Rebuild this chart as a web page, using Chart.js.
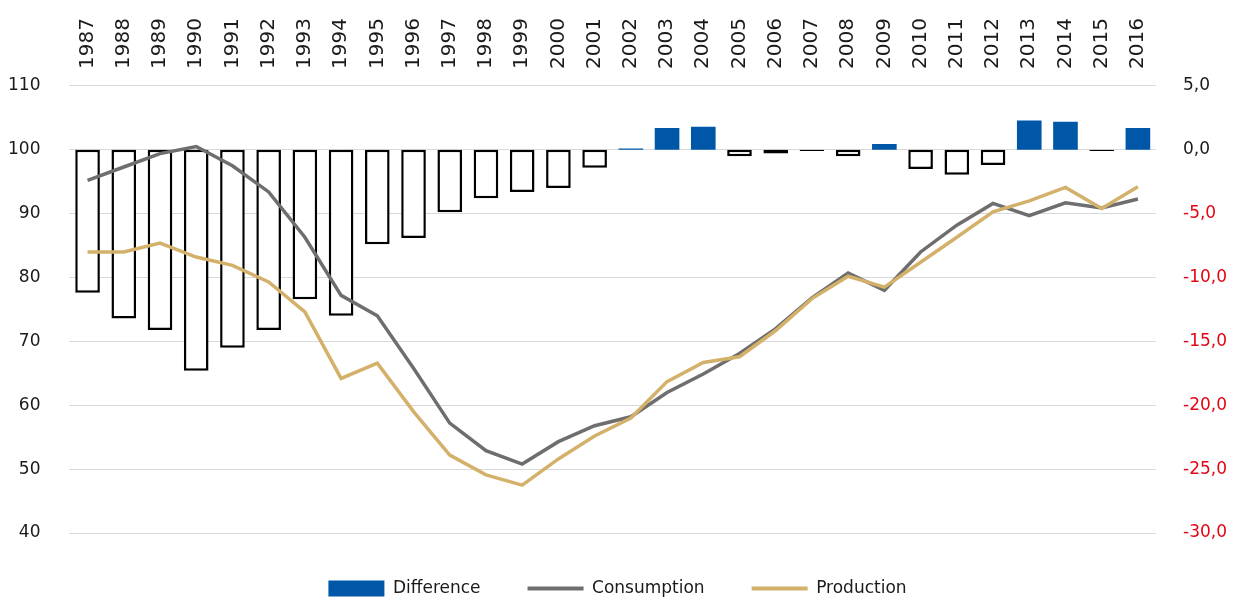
<!DOCTYPE html>
<html>
<head>
<meta charset="utf-8">
<script src="https://cdn.jsdelivr.net/npm/chart.js@4.4.1/dist/chart.umd.min.js"></script>
<style>
  html, body { margin: 0; padding: 0; background: #fff; overflow: hidden; }
  #wrap { position: relative; width: 1235px; height: 607px; }
</style>
</head>
<body>
<div id="wrap"><canvas id="chart"></canvas></div>
<script>
const years = ['1987', '1988', '1989', '1990', '1991', '1992', '1993', '1994', '1995', '1996',
  '1997', '1998', '1999', '2000', '2001', '2002', '2003', '2004', '2005', '2006',
  '2007', '2008', '2009', '2010', '2011', '2012', '2013', '2014', '2015', '2016'];

// right axis (difference)
const difference = [-11.2, -13.2, -14.1, -17.3, -15.5, -14.1, -11.7, -13.0, -7.4, -6.9,
  -4.9, -3.8, -3.3, -3.0, -1.4, 0.1, 1.7, 1.8, -0.5, -0.3,
  -0.1, -0.5, 0.45, -1.5, -1.95, -1.2, 2.3, 2.2, -0.1, 1.7];

// left axis
const consumption = [95.2, 97.3, 99.4, 100.5, 97.5, 93.4, 86.3, 77.2, 74.0, 65.8,
  57.2, 52.9, 50.8, 54.3, 56.8, 58.2, 62.0, 64.9, 68.1, 72.0,
  76.8, 80.7, 78.0, 84.0, 88.2, 91.6, 89.7, 91.7, 90.9, 92.3];
const production = [84.0, 84.0, 85.4, 83.2, 81.9, 79.3, 74.6, 64.2, 66.6, 59.0,
  52.2, 49.1, 47.5, 51.6, 55.2, 58.0, 63.7, 66.7, 67.6, 71.7,
  76.7, 80.2, 78.5, 82.4, 86.3, 90.3, 92.0, 94.1, 90.8, 94.2];

const leftTicks = [40, 50, 60, 70, 80, 90, 100, 110];
const rightTicks = [-30, -25, -20, -15, -10, -5, 0, 5];

const blue = '#0057a8';
const gray = '#6e6e6e';
const gold = '#d4b16b';
const red = '#e30613';
const textColor = '#1a1a1a';

Chart.defaults.font.family = '"DejaVu Sans", sans-serif';
Chart.defaults.color = textColor;

// chart.js reserves the tick padding twice, keep only the inner one
const dropOuterPadding = scale => {
  if (scale.isHorizontal()) scale.height -= scale.options.ticks.padding;
  else scale.width -= scale.options.ticks.padding;
};

new Chart(document.getElementById('chart'), {
  data: {
    labels: years,
    datasets: [
      {
        type: 'bar',
        label: 'Difference',
        data: difference,
        yAxisID: 'yRight',
        order: 3,
        backgroundColor: ctx => ctx.raw < 0 ? '#ffffff' : blue,
        borderColor: ctx => ctx.raw < 0 ? '#000000' : blue,
        borderWidth: ctx => ctx.raw < 0 ? 2.5 : 0,
        borderSkipped: false,
        barPercentage: 0.68,
        categoryPercentage: 1
      },
      {
        type: 'line',
        label: 'Consumption',
        data: consumption,
        yAxisID: 'yLeft',
        order: 2,
        borderColor: gray,
        backgroundColor: gray,
        borderWidth: 3.5,
        pointRadius: 0,
        tension: 0
      },
      {
        type: 'line',
        label: 'Production',
        data: production,
        yAxisID: 'yLeft',
        order: 1,
        borderColor: gold,
        backgroundColor: gold,
        borderWidth: 3.5,
        pointRadius: 0,
        tension: 0
      }
    ]
  },
  options: {
    responsive: true,
    maintainAspectRatio: false,
    animation: false,
    layout: { autoPadding: false, padding: { top: 18, left: 8, right: 8, bottom: 0 } },
    scales: {
      x: {
        position: 'top',
        offset: true,
        grid: { display: false, drawTicks: false },
        border: { display: false },
        afterFit: dropOuterPadding,
        ticks: {
          minRotation: 90,
          maxRotation: 90,
          autoSkip: false,
          padding: 17,
          labelOffset: 24,
          font: { size: 20, lineHeight: 1.2 }
        }
      },
      yLeft: {
        position: 'left',
        min: leftTicks[0],
        max: leftTicks[leftTicks.length - 1],
        grid: { color: '#d9d9d9', lineWidth: 1, drawTicks: false },
        border: { display: false },
        afterFit: dropOuterPadding,
        ticks: { stepSize: leftTicks[1] - leftTicks[0], padding: 29, font: { size: 17 } }
      },
      yRight: {
        position: 'right',
        min: rightTicks[0],
        max: rightTicks[rightTicks.length - 1],
        grid: { display: false, drawTicks: false },
        border: { display: false },
        afterFit: dropOuterPadding,
        ticks: {
          stepSize: rightTicks[1] - rightTicks[0],
          padding: 27,
          font: { size: 17 },
          callback: v => v.toFixed(1).replace('.', ','),
          color: ctx => ctx.tick.value < 0 ? red : textColor
        }
      }
    },
    plugins: {
      tooltip: { enabled: false },
      legend: {
        position: 'bottom',
        labels: {
          padding: 47,
          font: { size: 17 },
          usePointStyle: true,
          pointStyleWidth: 56,
          boxHeight: 16,
          sort: (a, b) => a.datasetIndex - b.datasetIndex,
          generateLabels: chart => Chart.defaults.plugins.legend.labels.generateLabels(chart).map(item => {
            if (item.datasetIndex === 0) {
              return { ...item, pointStyle: 'rect', fillStyle: blue, strokeStyle: blue, lineWidth: 0 };
            }
            return { ...item, pointStyle: 'line', lineWidth: 4 };
          })
        }
      }
    }
  }
});
</script>
</body>
</html>
